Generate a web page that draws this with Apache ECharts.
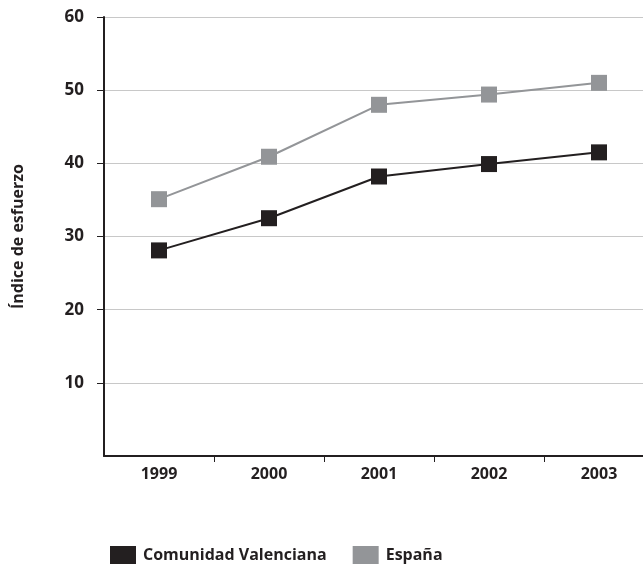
<!DOCTYPE html>
<html>
<head>
<meta charset="utf-8">
<script src="https://cdn.jsdelivr.net/npm/echarts@6/dist/echarts.min.js"></script>
<style>
html,body{margin:0;padding:0;background:#fff;}
#c{width:643px;height:566px;}
</style>
</head>
<body>
<div id="c"></div>
<script>
const categories = ['1999', '2000', '2001', '2002', '2003'];
const comunidadValenciana = [28.1, 32.5, 38.2, 39.9, 41.5];
const espana = [35.1, 40.9, 48.0, 49.4, 51.0];
const yTicks = [10, 20, 30, 40, 50, 60];

const FONT = 'Open Sans';
const chart = echarts.init(document.getElementById('c'));
chart.setOption({
  animation: false,
  backgroundColor: '#ffffff',
  textStyle: { fontFamily: FONT },
  grid: { left: 104, top: 17, width: 550, height: 439, containLabel: false, outerBoundsMode: 'none' },
  legend: {
    left: 105, top: 541,
    itemWidth: 26, itemHeight: 18, itemGap: 26,
    icon: 'rect',
    textStyle: { fontFamily: FONT, fontSize: 16, fontWeight: 'bold', color: '#231f20', padding: [0, 0, 0, 2] },
    data: ['Comunidad Valenciana', 'España']
  },
  xAxis: {
    type: 'category',
    data: categories,
    boundaryGap: true,
    axisLine: { lineStyle: { color: '#231f20', width: 2 } },
    axisTick: { show: true, length: 6, alignWithLabel: false, interval: (i) => i > 0, lineStyle: { color: '#231f20', width: 1 } },
    axisLabel: { fontFamily: FONT, fontSize: 16, fontWeight: 'bold', color: '#231f20', margin: 10, interval: 0 },
    splitLine: { show: false }
  },
  yAxis: {
    type: 'value',
    min: 0, max: 60, interval: 10,
    name: 'Índice de esfuerzo',
    nameLocation: 'middle',
    nameGap: 78,
    nameRotate: 90,
    nameTextStyle: { fontFamily: FONT, fontSize: 16, fontWeight: 'bold', color: '#231f20' },
    axisLine: { show: true, lineStyle: { color: '#231f20', width: 2 } },
    axisTick: { show: true, length: 7, customValues: yTicks, lineStyle: { color: '#231f20', width: 1 } },
    axisLabel: {
      fontFamily: FONT, fontSize: 17, fontWeight: 'bold', color: '#231f20', margin: 20,
      customValues: yTicks
    },
    splitLine: { show: true, lineStyle: { color: '#c8c8c8', width: 1 } }
  },
  series: [
    {
      name: 'Comunidad Valenciana', type: 'line', data: comunidadValenciana,
      symbol: 'rect', symbolSize: 16,
      itemStyle: { color: '#231f20' },
      lineStyle: { color: '#231f20', width: 2 }
    },
    {
      name: 'España', type: 'line', data: espana,
      symbol: 'rect', symbolSize: 16,
      itemStyle: { color: '#939598' },
      lineStyle: { color: '#939598', width: 2 }
    }
  ]
});
</script>
</body>
</html>
